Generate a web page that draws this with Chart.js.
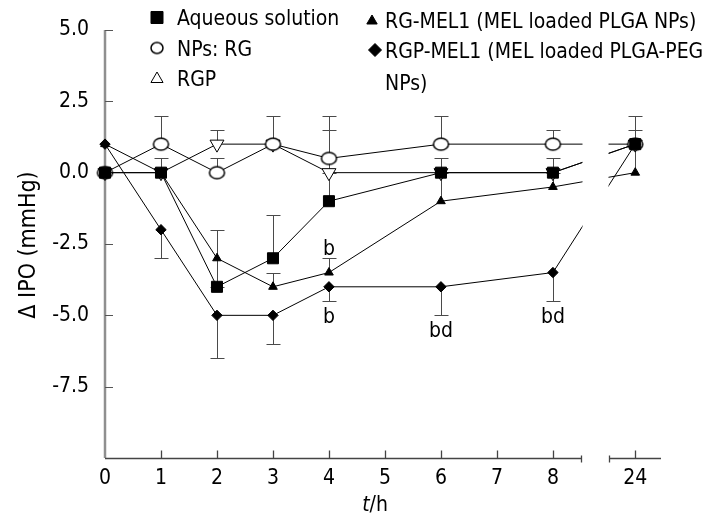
<!DOCTYPE html>
<html>
<head>
<meta charset="utf-8">
<script src="https://cdn.jsdelivr.net/npm/chart.js@4.4.1/dist/chart.umd.min.js"></script>
<style>
  html, body { margin: 0; padding: 0; background: #fff; }
  #wrap { position: relative; width: 714px; height: 523px; }
</style>
</head>
<body>
<div id="wrap"><canvas id="iop"></canvas></div>
<script>
// IOP change vs time — broken time axis (0-8 h, then 24 h)
const hours = [0, 1, 2, 3, 4, 6, 8, 24];
const tickHours = [0, 1, 2, 3, 4, 5, 6, 7, 8, 24];
const yTicks = [-7.5, -5, -2.5, 0, 2.5, 5];

const aqueous = [0, 0, -4, -3, -1, 0, 0, 1];
const aqueousUp = [0, 0.5, 0, 1.5, 1, 0.5, 0.5, 0.5];

const npsRG = [0, 1, 0, 1, 0.5, 1, 1, 1];
const npsRGUp = [0, 1, 0.5, 1, 1.5, 1, 0.5, 1];

const rgp = [0, 0, 1, 1, 0, 0, 0, 1];
const rgpUp = [0, 0, 0.5, 0, 1.5, 0, 0, 0];

const rgMel = [1, 0, -3, -4, -3.5, -1, -0.5, 0];
const rgMelUp = [0, 0, 1, 0.5, 0.5, 1, 0.5, 1];
const rgMelDown = [0, 0, 1, 0, 0, 0, 0, 0];

const rgpMel = [1, -2, -5, -5, -4, -4, -3.5, 1];
const rgpMelDown = [0, 1, 1.5, 1, 0.5, 1, 1, 0];

// significance marks: hour, label, series label, above/below the bar
const sigHours = [4, 4, 6, 8];
const sigLabels = ['b', 'b', 'bd', 'bd'];
const sigSeries = ['RG-MEL1', 'RGP-MEL1', 'RGP-MEL1', 'RGP-MEL1'];
const sigAbove = [true, false, false, false];

const legendLabels = ['Aqueous solution', 'NPs: RG', 'RGP', 'RG-MEL1 (MEL loaded PLGA NPs)', 'RGP-MEL1 (MEL loaded PLGA-PEG', 'NPs)'];

const FONT = '"DejaVu Sans Condensed", "DejaVu Sans", sans-serif';
const FS = 21;
const AXIS_24 = 9.47;        // where 24 h sits on the compressed axis
const BREAK_L = 8.5, BREAK_R = 9.0, X_MAX = 9.93;
const toAxis = h => (h <= 8.5 ? h : AXIS_24);

function ellipseMarker(w, h) {
  const c = document.createElement('canvas');
  c.width = w + 4; c.height = h + 4;
  const g = c.getContext('2d');
  g.beginPath();
  g.ellipse(c.width / 2, c.height / 2, w / 2, h / 2, 0, 0, Math.PI * 2);
  g.fillStyle = '#fff'; g.fill();
  g.strokeStyle = '#000'; g.lineWidth = 1.5; g.stroke();
  return c;
}
const bigEllipse = ellipseMarker(15, 12);
const smallEllipse = ellipseMarker(12, 11);

function series(label, values, up, down, style) {
  return Object.assign({
    label,
    data: hours.map((h, i) => ({ x: toAxis(h), y: values[i] })),
    errUp: up, errDown: down,
    borderColor: '#000', borderWidth: 1, tension: 0, clip: false,
    pointBorderColor: '#000', pointBorderWidth: 1,
    pointHoverRadius: style.pointRadius
  }, style);
}

const datasets = [
  series('Aqueous solution', aqueous, aqueousUp, null, { order: 0, pointStyle: 'rect', pointRadius: 7.8, pointBackgroundColor: '#000' }),
  series('RG-MEL1', rgMel, rgMelUp, rgMelDown, { order: 1, pointStyle: 'triangle', pointRadius: 5, pointBackgroundColor: '#000' }),
  series('RGP-MEL1', rgpMel, null, rgpMelDown, { order: 2, pointStyle: 'rectRot', pointRadius: 5.2, pointBackgroundColor: '#000' }),
  series('NPs: RG', npsRG, npsRGUp, null, { order: 3, pointStyle: bigEllipse, pointRadius: 7 }),
  series('RGP', rgp, rgpUp, null, { order: 4, pointStyle: 'triangle', rotation: 180, pointRadius: 8, pointBackgroundColor: '#fff' })
];

const decorations = {
  id: 'decorations',
  beforeDatasetsDraw(chart) {
    const { ctx, chartArea: a } = chart;
    const xs = chart.scales.x, ys = chart.scales.y;
    ctx.save();
    // y axis + inward ticks
    ctx.strokeStyle = '#8f8f8f'; ctx.lineWidth = 2.5;
    ctx.beginPath(); ctx.moveTo(a.left, a.top); ctx.lineTo(a.left, a.bottom); ctx.stroke();
    ctx.strokeStyle = '#555'; ctx.lineWidth = 1;
    yTicks.forEach(v => {
      const py = Math.round(ys.getPixelForValue(v)) + 0.5;
      ctx.beginPath(); ctx.moveTo(a.left, py); ctx.lineTo(a.left + 8, py); ctx.stroke();
    });
    // error bars
    ctx.strokeStyle = '#4a4a4a';
    chart.data.datasets.forEach(ds => {
      ds.data.forEach((p, i) => {
        const px = Math.round(xs.getPixelForValue(p.x)) + 0.5;
        const ends = [];
        if (ds.errUp && ds.errUp[i]) ends.push(p.y + ds.errUp[i]);
        if (ds.errDown && ds.errDown[i]) ends.push(p.y - ds.errDown[i]);
        ends.forEach(e => {
          const y0 = ys.getPixelForValue(p.y);
          const y1 = Math.round(ys.getPixelForValue(e)) + 0.5;
          ctx.beginPath();
          ctx.moveTo(px, y0); ctx.lineTo(px, y1);
          ctx.moveTo(px - 7, y1); ctx.lineTo(px + 7, y1);
          ctx.stroke();
        });
      });
    });
    ctx.restore();
  },
  afterDatasetsDraw(chart) {
    const { ctx, chartArea: a } = chart;
    const xs = chart.scales.x, ys = chart.scales.y;
    const bl = Math.round(xs.getPixelForValue(BREAK_L)) + 0.5;
    const br = Math.round(xs.getPixelForValue(BREAK_R)) + 0.5;
    ctx.save();
    // gap of the broken axis
    ctx.fillStyle = '#fff';
    ctx.fillRect(bl + 1, 0, br - bl - 2, a.bottom + 6);
    // x axis segments
    const ay = Math.round(a.bottom) + 0.5;
    ctx.strokeStyle = '#444'; ctx.lineWidth = 1.3;
    ctx.beginPath();
    ctx.moveTo(a.left, ay); ctx.lineTo(bl, ay);
    ctx.moveTo(br, ay); ctx.lineTo(a.right, ay);
    ctx.moveTo(bl, ay - 3); ctx.lineTo(bl, ay + 4);
    ctx.moveTo(br, ay - 3); ctx.lineTo(br, ay + 4);
    tickHours.slice(1).forEach(h => {
      const px = Math.round(xs.getPixelForValue(toAxis(h))) + 0.5;
      ctx.moveTo(px, ay); ctx.lineTo(px, ay - 8);
    });
    ctx.stroke();
    // significance letters
    ctx.fillStyle = '#000';
    ctx.font = FS + 'px ' + FONT;
    ctx.textAlign = 'center'; ctx.textBaseline = 'alphabetic';
    sigLabels.forEach((txt, k) => {
      const ds = chart.data.datasets.find(d => d.label === sigSeries[k]);
      const i = hours.indexOf(sigHours[k]);
      const v = ds.data[i].y;
      const end = sigAbove[k] ? v + ds.errUp[i] : v - ds.errDown[i];
      const py = ys.getPixelForValue(end);
      const px = xs.getPixelForValue(toAxis(sigHours[k]));
      ctx.fillText(txt, px, sigAbove[k] ? py - 3 : py + 22);
    });
    ctx.restore();
  },
  afterDraw(chart) {
    const { ctx } = chart;
    const H = Chart.helpers;
    ctx.save();
    ctx.fillStyle = '#000'; ctx.strokeStyle = '#000'; ctx.lineWidth = 1;
    // legend markers
    const mark = (opts, x, y, fill) => {
      ctx.fillStyle = fill;
      H.drawPoint(ctx, Object.assign({ borderWidth: 1, rotation: 0 }, opts), x, y);
    };
    mark({ pointStyle: 'rect', radius: 8.5 }, 157, 17.5, '#000');
    mark({ pointStyle: smallEllipse, radius: 6 }, 157, 48, '#fff');
    mark({ pointStyle: 'triangle', radius: 7 }, 157, 79, '#fff');
    mark({ pointStyle: 'triangle', radius: 6 }, 372, 21, '#000');
    mark({ pointStyle: 'rectRot', radius: 6.5 }, 375, 50, '#000');
    // legend text
    ctx.fillStyle = '#000';
    ctx.font = FS + 'px ' + FONT;
    ctx.textAlign = 'left'; ctx.textBaseline = 'alphabetic';
    ctx.fillText(legendLabels[0], 177, 25);
    ctx.fillText(legendLabels[1], 177, 55.5);
    ctx.fillText(legendLabels[2], 177, 86);
    ctx.fillText(legendLabels[3], 385, 28);
    ctx.fillText(legendLabels[4], 385, 58);
    ctx.fillText(legendLabels[5], 385, 90);
    // y title
    ctx.save();
    ctx.font = '23px ' + FONT;
    ctx.translate(35, 245); ctx.rotate(-Math.PI / 2);
    ctx.textAlign = 'center';
    ctx.fillText('\u0394 IPO (mmHg)', 0, 0);
    ctx.restore();
    // x title: italic t + /h
    ctx.font = 'italic ' + FS + 'px ' + FONT;
    const wt = ctx.measureText('t').width;
    ctx.font = FS + 'px ' + FONT;
    const wh = ctx.measureText('/h').width;
    const x0 = 375 - (wt + wh) / 2;
    ctx.font = 'italic ' + FS + 'px ' + FONT;
    ctx.fillText('t', x0, 511);
    ctx.font = FS + 'px ' + FONT;
    ctx.fillText('/h', x0 + wt, 511);
    ctx.restore();
  }
};

new Chart(document.getElementById('iop'), {
  type: 'line',
  data: { datasets },
  options: {
    responsive: true, maintainAspectRatio: false, animation: false,
    events: [],
    layout: { padding: { top: 30, right: 53, left: 0, bottom: 0 } },
    plugins: { legend: { display: false }, tooltip: { enabled: false } },
    scales: {
      x: {
        type: 'linear', min: 0, max: X_MAX,
        grid: { display: false, drawTicks: false }, border: { display: false },
        afterBuildTicks: s => { s.ticks = tickHours.map(h => ({ value: toAxis(h) })); },
        afterFit: s => { s.height = 65; },
        ticks: {
          autoSkip: false, maxRotation: 0, padding: 8, color: '#000',
          font: { family: FONT, size: FS },
          callback: (v, i) => String(tickHours[i])
        }
      },
      y: {
        min: -10, max: 5,
        grid: { display: false, drawTicks: false }, border: { display: false },
        afterFit: s => { s.width = 105; },
        ticks: {
          stepSize: 2.5, padding: 16, color: '#000',
          font: { family: FONT, size: FS },
          callback: v => (v === -10 ? '' : v.toFixed(1))
        }
      }
    }
  },
  plugins: [decorations]
});
</script>
</body>
</html>
